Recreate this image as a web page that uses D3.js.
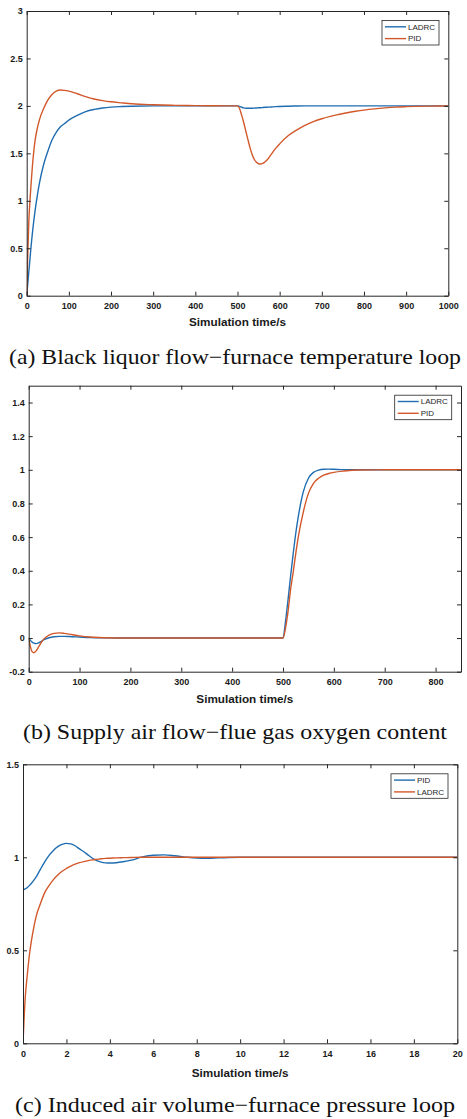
<!doctype html>
<html lang="en">
<head>
<meta charset="UTF-8">
<title>LADRC and PID loop responses</title>
<script src="https://d3js.org/d3.v7.min.js"></script>
<style>
body { margin: 0; background: #fff; }
svg { display: block; }
.axis path, .axis line { stroke: #262626; stroke-width: 1; }
.axis text { font-family: "Liberation Sans", Arial, sans-serif; font-size: 9px; font-weight: bold; fill: #1a1a1a; }
.legend text { font-family: "Liberation Sans", Arial, sans-serif; font-size: 8px; fill: #262626; }
.xlabel { font-family: "Liberation Sans", Arial, sans-serif; font-size: 11.5px; font-weight: bold; fill: #1a1a1a; }
.caption { font-family: "Liberation Serif", "Times New Roman", serif; font-size: 21px; fill: #111; }
</style>
</head>
<body>
<div id="plot"></div>
<script>

var width = 467;
var height = 1119;
var blue = "#1f6db0";
var orange = "#d2582a";

// (a) black liquor flow - furnace temperature
var aTime = [0, 2, 5, 8, 10, 15, 20, 25, 30, 40, 50, 60, 70, 80, 90, 100, 120, 140, 160, 180,
  200, 225, 250, 300, 350, 400, 450, 500, 505, 510, 515, 520, 525, 530, 535, 540, 545, 550, 555, 560,
  570, 580, 590, 600, 620, 640, 660, 680, 700, 720, 740, 760, 780, 800, 825, 850, 875, 900, 950, 1000];
var aLadrc = [0, 0.1, 0.25, 0.4, 0.5, 0.72, 0.9, 1.05, 1.18, 1.38, 1.52, 1.64, 1.72, 1.78, 1.815, 1.85, 1.9, 1.94, 1.963, 1.978,
  1.987, 1.993, 1.997, 2.0, 2.0, 2.0, 2.0, 2.0, 1.995, 1.986, 1.979, 1.976, 1.975, 1.975, 1.976, 1.977, 1.978, 1.98, 1.981, 1.983,
  1.986, 1.989, 1.992, 1.994, 1.997, 1.999, 2.0, 2.0, 2.0, 2.0, 2.0, 2.0, 2.0, 2.0, 2.0, 2.0, 2.0, 2.0, 2.0, 2.0];
var aPid = [0, 0.36, 0.78, 1.02, 1.15, 1.44, 1.64, 1.76, 1.85, 1.97, 2.06, 2.12, 2.155, 2.167, 2.164, 2.155, 2.128, 2.098, 2.073, 2.056,
  2.043, 2.032, 2.022, 2.012, 2.006, 2.003, 2.001, 2.0, 1.97, 1.9, 1.82, 1.73, 1.64, 1.555, 1.485, 1.435, 1.405, 1.39, 1.387, 1.395,
  1.43, 1.49, 1.55, 1.6, 1.685, 1.745, 1.795, 1.835, 1.865, 1.89, 1.91, 1.928, 1.943, 1.956, 1.969, 1.979, 1.987, 1.992, 1.998, 2.0];
var aXTicks = [0, 100, 200, 300, 400, 500, 600, 700, 800, 900, 1000];
var aYTicks = [0, 0.5, 1, 1.5, 2, 2.5, 3];

// (b) supply air flow - flue gas oxygen content
var bTime = [0, 3, 6, 10, 15, 20, 25, 30, 40, 50, 60, 70, 80, 100, 120, 150, 200, 300, 400, 500,
  505, 510, 515, 520, 525, 530, 540, 550, 560, 570, 580, 590, 600, 620, 650, 700, 800, 850];
var bLadrc = [0, -0.012, -0.022, -0.03, -0.033, -0.028, -0.02, -0.01, 0.002, 0.008, 0.01, 0.01, 0.009, 0.006, 0.003, 0.001, 0, 0, 0, 0,
  0.1, 0.23, 0.37, 0.5, 0.62, 0.72, 0.87, 0.95, 0.985, 0.998, 1.003, 1.004, 1.003, 1.001, 1.0, 1, 1, 1];
var bPid = [0, -0.045, -0.078, -0.087, -0.075, -0.05, -0.025, -0.005, 0.018, 0.028, 0.031, 0.028, 0.023, 0.013, 0.006, 0.002, 0, 0, 0, 0,
  0.06, 0.16, 0.29, 0.39, 0.5, 0.6, 0.75, 0.86, 0.92, 0.95, 0.968, 0.978, 0.985, 0.993, 0.999, 1, 1, 1];
var bXTicks = [0, 100, 200, 300, 400, 500, 600, 700, 800];
var bYTicks = [-0.2, 0, 0.2, 0.4, 0.6, 0.8, 1, 1.2, 1.4];

// (c) induced air volume - furnace pressure
var cTime = [0, 0.1, 0.2, 0.3, 0.4, 0.5, 0.6, 0.8, 1.0, 1.2, 1.4, 1.6, 1.8, 2.0, 2.2, 2.4, 2.6, 2.8, 3.0, 3.2, 3.4,
  3.6, 3.8, 4.0, 4.3, 4.6, 5.0, 5.5, 6.0, 6.5, 7.0, 7.5, 8.0, 8.5, 9.0, 10, 12, 14, 16, 18, 20];
var cPid = [0.824, 0.83, 0.838, 0.849, 0.862, 0.877, 0.893, 0.935, 0.975, 1.01, 1.037, 1.057, 1.069, 1.075, 1.072, 1.062, 1.045, 1.03, 1.012, 0.995, 0.982,
  0.974, 0.97, 0.969, 0.971, 0.976, 0.985, 1.002, 1.011, 1.013, 1.008, 1.001, 0.996, 0.995, 0.997, 1.0, 1.0, 1.0, 1.0, 1.0, 1.0];
var cLadrc = [0, 0.24, 0.37, 0.48, 0.56, 0.625, 0.68, 0.75, 0.81, 0.848, 0.88, 0.905, 0.925, 0.94, 0.953, 0.963, 0.971, 0.977, 0.982, 0.986, 0.989,
  0.992, 0.994, 0.995, 0.997, 0.998, 0.999, 1.0, 1, 1, 1, 1, 1, 1, 1, 1, 1, 1, 1, 1, 1];
var cXTicks = [0, 2, 4, 6, 8, 10, 12, 14, 16, 18, 20];
var cYTicks = [0, 0.5, 1, 1.5];

var xLabel = "Simulation time/s";
var captions = [
  "(a) Black liquor flow\u2212furnace temperature loop",
  "(b) Supply air flow\u2212flue gas oxygen content",
  "(c) Induced air volume\u2212furnace pressure loop"
];

var panels = [
  { left: 26.7, right: 448.3, top: 11, bottom: 295.7, xDomain: [0, 1000], yDomain: [0, 3],
    xTicks: aXTicks, yTicks: aYTicks, time: aTime, labelY: 326, captionY: 364, captionW: 452,
    series: [{ name: "LADRC", values: aLadrc, color: blue }, { name: "PID", values: aPid, color: orange }] },
  { left: 28.7, right: 461, top: 385.7, bottom: 671.7, xDomain: [0, 850], yDomain: [-0.2, 1.5],
    xTicks: bXTicks, yTicks: bYTicks, time: bTime, labelY: 702.7, captionY: 739, captionW: 424,
    series: [{ name: "LADRC", values: bLadrc, color: blue }, { name: "PID", values: bPid, color: orange }] },
  { left: 23, right: 457.3, top: 764.3, bottom: 1043.3, xDomain: [0, 20], yDomain: [0, 1.5],
    xTicks: cXTicks, yTicks: cYTicks, time: cTime, labelY: 1077, captionY: 1112, captionW: 440,
    series: [{ name: "PID", values: cPid, color: blue }, { name: "LADRC", values: cLadrc, color: orange }] }
];

var svg = d3.select("#plot").append("svg")
  .attr("width", width)
  .attr("height", height);

function fmt(d) { return String(+d.toFixed(2)); }

panels.forEach(function (p, i) {
  var x = d3.scaleLinear().domain(p.xDomain).range([p.left, p.right]);
  var y = d3.scaleLinear().domain(p.yDomain).range([p.bottom, p.top]);
  var g = svg.append("g");

  g.append("clipPath").attr("id", "clip" + i)
    .append("rect")
    .attr("x", p.left).attr("y", p.top)
    .attr("width", p.right - p.left).attr("height", p.bottom - p.top);

  // curves
  var line = d3.line()
    .x(function (d, j) { return x(p.time[j]); })
    .y(function (d) { return y(d); })
    .curve(d3.curveMonotoneX);

  p.series.forEach(function (s) {
    g.append("path")
      .attr("d", line(s.values))
      .attr("clip-path", "url(#clip" + i + ")")
      .style("fill", "none")
      .style("stroke", s.color)
      .style("stroke-width", 1.4);
  });

  // box with inward ticks on all sides
  g.append("g").attr("class", "axis")
    .attr("transform", "translate(0," + p.bottom + ")")
    .call(d3.axisBottom(x).tickValues(p.xTicks).tickSize(-4).tickSizeOuter(0).tickPadding(7).tickFormat(fmt));
  g.append("g").attr("class", "axis")
    .attr("transform", "translate(0," + p.top + ")")
    .call(d3.axisTop(x).tickValues(p.xTicks).tickSize(-4).tickSizeOuter(0).tickFormat(""));
  g.append("g").attr("class", "axis")
    .attr("transform", "translate(" + p.left + ",0)")
    .call(d3.axisLeft(y).tickValues(p.yTicks).tickSize(-4).tickSizeOuter(0).tickPadding(4).tickFormat(fmt));
  g.append("g").attr("class", "axis")
    .attr("transform", "translate(" + p.right + ",0)")
    .call(d3.axisRight(y).tickValues(p.yTicks).tickSize(-4).tickSizeOuter(0).tickFormat(""));

  // legend
  var lw = 57, lh = 24.5;
  var bx = p.right - 9.3 - lw, by = p.top + 9.5;
  var lg = g.append("g").attr("class", "legend");
  lg.append("rect")
    .attr("x", bx).attr("y", by)
    .attr("width", lw).attr("height", lh)
    .style("fill", "#fff")
    .style("stroke", "#262626")
    .style("stroke-width", 0.8);
  p.series.forEach(function (s, k) {
    var ly = by + 6.3 + k * 11.8;
    lg.append("line")
      .attr("x1", bx + 3).attr("x2", bx + 24)
      .attr("y1", ly).attr("y2", ly)
      .style("stroke", s.color)
      .style("stroke-width", 1.4);
    lg.append("text")
      .attr("x", bx + 26).attr("y", ly)
      .attr("dy", "0.35em")
      .text(s.name);
  });

  // x label and caption
  g.append("text")
    .attr("class", "xlabel")
    .attr("x", (p.left + p.right) / 2)
    .attr("y", p.labelY)
    .attr("text-anchor", "middle")
    .attr("textLength", 97)
    .attr("lengthAdjust", "spacingAndGlyphs")
    .text(xLabel);

  g.append("text")
    .attr("class", "caption")
    .attr("x", 235)
    .attr("y", p.captionY)
    .attr("text-anchor", "middle")
    .attr("textLength", p.captionW)
    .attr("lengthAdjust", "spacingAndGlyphs")
    .text(captions[i]);
});

</script>
</body>
</html>
